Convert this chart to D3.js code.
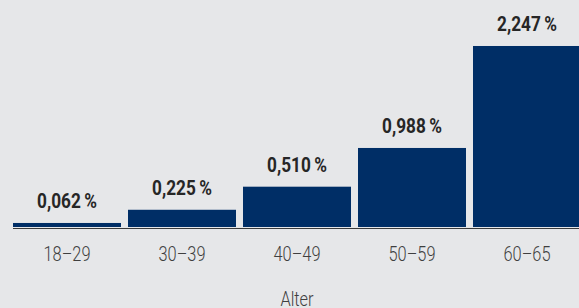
<!DOCTYPE html>
<html><head><meta charset="utf-8">
<script src="https://cdn.jsdelivr.net/npm/d3@7/dist/d3.min.js"></script>
<style>
html,body{margin:0;padding:0;background:#e6e7e9;overflow:hidden;}
svg{display:block;}
text{font-family:Roboto,"Liberation Sans",sans-serif;}
</style></head>
<body>
<svg id="chart" width="579" height="308"></svg>
<script>
const categories = ["18–29","30–39","40–49","50–59","60–65"];
const values = [0.062, 0.225, 0.510, 0.988, 2.247];
const labels = ["0,062","0,225","0,510","0,988","2,247"];
const axisTitle = "Alter";

const W = 579, H = 308;
const svg = d3.select("#chart");
svg.append("rect").attr("width", W).attr("height", H).attr("fill", "#e6e7e9");

const x = d3.scaleBand().domain(categories).range([13, 581]).paddingInner(7/115).paddingOuter(0);
const y = d3.scaleLinear().domain([0, 2.5]).range([228, 25.5]);

svg.selectAll("rect.bar").data(values).enter().append("rect")
  .attr("class","bar")
  .attr("x", (d,i) => x(categories[i]))
  .attr("width", x.bandwidth())
  .attr("y", d => y(d))
  .attr("height", d => y(0) - y(d) - 1)
  .attr("fill", "#002e66");

svg.selectAll("text.val").data(values).enter().append("text")
  .attr("class","val")
  .attr("transform", (d,i) => `translate(${x(categories[i]) + x.bandwidth()/2},${y(d) - 15}) scale(0.82,1)`)
  .attr("text-anchor","middle")
  .attr("font-size", 21)
  .attr("font-weight","bold")
  .attr("fill","#262626")
  .text((d,i) => labels[i] + "\u2009%");

const axis = d3.axisBottom(x).tickSize(0).tickPadding(0);
const g = svg.append("g").attr("transform", `translate(0,${y(0)})`).call(axis);
g.select(".domain").attr("d", "M13,0.5H579").attr("stroke","#3a3a3a").attr("stroke-width",1.2);
g.selectAll(".tick text")
  .attr("y", 0)
  .attr("dy", 0)
  .attr("transform", "translate(0,33) scale(0.78,1)")
  .attr("font-size", 21)
  .attr("font-family", 'Roboto,"Liberation Sans",sans-serif')
  .attr("font-weight", 300)
  .attr("fill", "#3f3f3f");

svg.append("text")
  .attr("transform", "translate(297,306) scale(0.78,1)")
  .attr("text-anchor","middle")
  .attr("font-size", 21)
  .attr("font-weight", 300)
  .attr("fill","#3f3f3f")
  .text(axisTitle);
</script>
</body></html>
